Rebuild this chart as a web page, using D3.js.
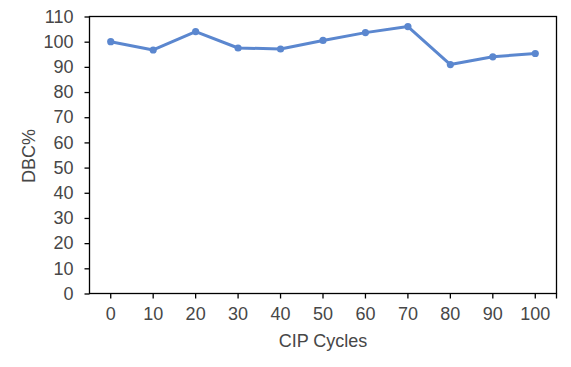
<!DOCTYPE html>
<html><head><meta charset="utf-8">
<script src="https://cdn.jsdelivr.net/npm/d3@7/dist/d3.min.js"></script>
<style>body{margin:0;background:#fff}svg{display:block}</style>
</head><body><svg id="c" width="571" height="367"></svg>
<script>
const categories = ["0","10","20","30","40","50","60","70","80","90","100"];
const values = [100, 96.7, 104.0, 97.5, 97.1, 100.5, 103.6, 106.0, 90.9, 94.0, 95.3];
const yTicks = [0,10,20,30,40,50,60,70,80,90,100,110];

const svg = d3.select("#c");
const m = {left: 89.5, top: 16.5, right: 556.5, bottom: 293.5};
const x = d3.scaleBand().domain(categories).range([m.left, m.right]);
const y = d3.scaleLinear().domain([0,110]).range([m.bottom, m.top]);
const font = "'Liberation Sans', Arial, sans-serif";
const txt = "#474747";
const fs = 18;

// frame
svg.append("rect").attr("x", m.left).attr("y", m.top)
  .attr("width", m.right-m.left).attr("height", m.bottom-m.top)
  .attr("fill","none").attr("stroke","#000").attr("stroke-width",1.3);

// y axis
const ya = svg.append("g").attr("transform",`translate(${m.left},0)`)
  .call(d3.axisLeft(y).tickValues(yTicks).tickSize(5).tickPadding(11));
ya.select(".domain").remove();
ya.selectAll("line").attr("stroke","#000").attr("stroke-width",1.3);
ya.selectAll("text").attr("font-family",font).attr("font-size",fs).attr("fill",txt);

// x axis
const xa = svg.append("g").attr("transform",`translate(0,${m.bottom})`)
  .call(d3.axisBottom(x).tickSize(5).tickPadding(9));
xa.select(".domain").remove();
xa.selectAll("line").attr("stroke","#000").attr("stroke-width",1.3);
xa.selectAll("text").attr("font-family",font).attr("font-size",fs).attr("fill",txt);
svg.append("line").attr("x1",m.right).attr("x2",m.right).attr("y1",m.bottom).attr("y2",m.bottom+5)
  .attr("stroke","#000").attr("stroke-width",1.3);

const cx = d => x(d) + x.bandwidth()/2;
const pts = categories.map((c,i)=>[cx(c), y(values[i])]);
svg.append("path").attr("d", d3.line()(pts)).attr("fill","none")
  .attr("stroke","#5B87CF").attr("stroke-width",3).attr("stroke-linejoin","round");
svg.selectAll("circle.p").data(pts).join("circle").attr("class","p")
  .attr("cx",d=>d[0]).attr("cy",d=>d[1]).attr("r",3.6).attr("fill","#5B87CF");

svg.append("text").attr("x",323).attr("y",347)
  .attr("text-anchor","middle").attr("font-family",font).attr("font-size",fs).attr("fill",txt)
  .text("CIP Cycles");
svg.append("text").attr("transform","translate(35,156) rotate(-90)")
  .attr("text-anchor","middle").attr("font-family",font).attr("font-size",fs).attr("fill",txt)
  .text("DBC%");
</script></body></html>
